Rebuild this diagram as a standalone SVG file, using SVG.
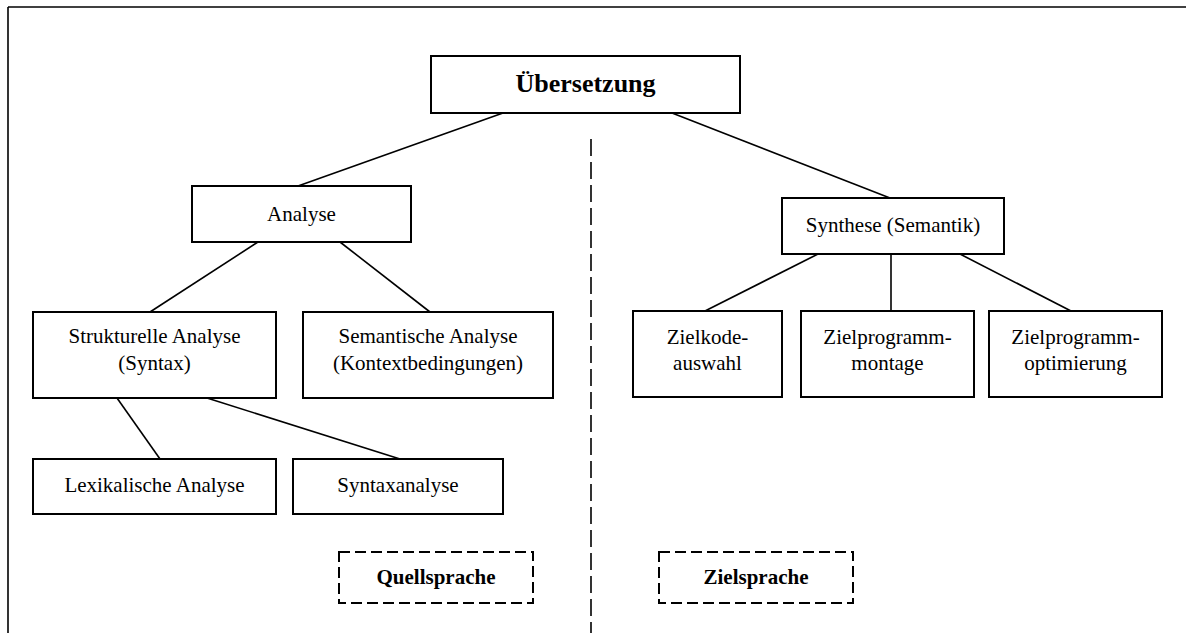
<svg xmlns="http://www.w3.org/2000/svg" width="1186" height="633" viewBox="0 0 1186 633">
<style>
.box{fill:#fff;stroke:#000;stroke-width:2}
.dbox{fill:#fff;stroke:#000;stroke-width:2;stroke-dasharray:11 5}
.ln{stroke:#000;stroke-width:1.6;fill:none}
.t{font-family:"Liberation Serif","Times New Roman",serif;font-size:21px;text-anchor:middle;fill:#000}
.b{font-weight:bold}
</style>
<rect x="0" y="0" width="1186" height="633" fill="#fff"/>
<g id="frame">
<line x1="8" y1="7" x2="1186" y2="7" class="ln"/>
<line x1="8" y1="7" x2="8" y2="633" class="ln"/>
</g>
<g id="connectors">
<line x1="503" y1="113" x2="298" y2="186" class="ln"/>
<line x1="672" y1="113" x2="890" y2="198" class="ln"/>
<line x1="258" y1="242" x2="150" y2="312" class="ln"/>
<line x1="340" y1="242" x2="430" y2="312" class="ln"/>
<line x1="117" y1="398" x2="160" y2="459" class="ln"/>
<line x1="207" y1="398" x2="400" y2="459" class="ln"/>
<line x1="818" y1="254" x2="705" y2="311" class="ln"/>
<line x1="891" y1="254" x2="891" y2="311" class="ln"/>
<line x1="960" y1="254" x2="1071" y2="311" class="ln"/>
<line x1="591" y1="139" x2="591" y2="633" class="ln" stroke-dasharray="17 6"/>
</g>
<g id="uebersetzung">
<rect x="431" y="56" width="309" height="57" class="box"/>
<text x="585.5" y="92" class="t b" style="font-size:26px">Übersetzung</text>
</g>
<g id="analyse">
<rect x="192" y="186" width="219" height="56" class="box"/>
<text x="301.5" y="221" class="t">Analyse</text>
</g>
<g id="strukturelle">
<rect x="33" y="312" width="243" height="86" class="box"/>
<text x="154.5" y="343" class="t">Strukturelle Analyse</text>
<text x="154.5" y="370" class="t">(Syntax)</text>
</g>
<g id="semantische">
<rect x="303" y="312" width="250" height="86" class="box"/>
<text x="428" y="343" class="t">Semantische Analyse</text>
<text x="428" y="370" class="t">(Kontextbedingungen)</text>
</g>
<g id="lexikalische">
<rect x="33" y="459" width="243" height="55" class="box"/>
<text x="154.5" y="492" class="t">Lexikalische Analyse</text>
</g>
<g id="syntaxanalyse">
<rect x="293" y="459" width="210" height="55" class="box"/>
<text x="398" y="492" class="t">Syntaxanalyse</text>
</g>
<g id="synthese">
<rect x="782" y="198" width="222" height="56" class="box"/>
<text x="893" y="232" class="t">Synthese (Semantik)</text>
</g>
<g id="zielkode">
<rect x="633" y="311" width="149" height="86" class="box"/>
<text x="707.5" y="344" class="t">Zielkode-</text>
<text x="707.5" y="370" class="t">auswahl</text>
</g>
<g id="montage">
<rect x="801" y="311" width="173" height="86" class="box"/>
<text x="887.5" y="344" class="t">Zielprogramm-</text>
<text x="887.5" y="370" class="t">montage</text>
</g>
<g id="optimierung">
<rect x="989" y="311" width="173" height="86" class="box"/>
<text x="1075.5" y="344" class="t">Zielprogramm-</text>
<text x="1075.5" y="370" class="t">optimierung</text>
</g>
<g id="quellsprache">
<rect x="339" y="552" width="194" height="51" class="dbox"/>
<text x="436" y="584" class="t b">Quellsprache</text>
</g>
<g id="zielsprache">
<rect x="659" y="552" width="194" height="51" class="dbox"/>
<text x="756" y="584" class="t b">Zielsprache</text>
</g>
</svg>
